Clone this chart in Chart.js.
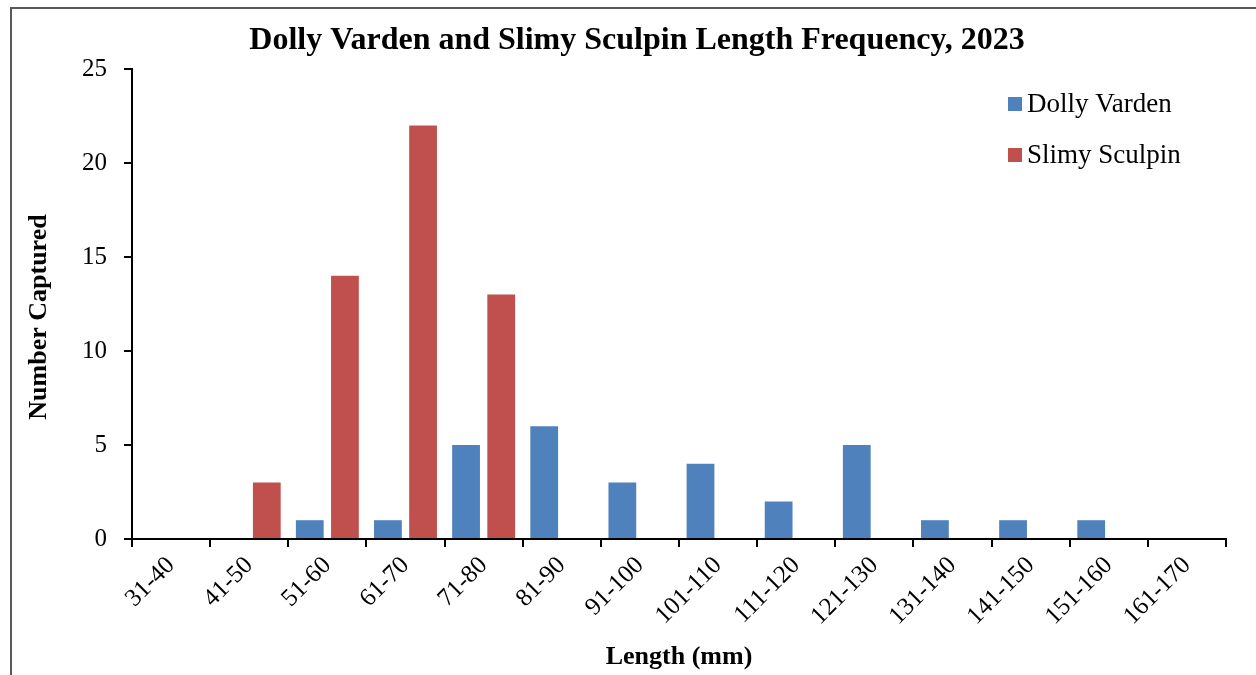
<!DOCTYPE html>
<html>
<head>
    <title>Length Frequency</title>
    <script src="https://cdn.jsdelivr.net/npm/chart.js"></script>
    <style>
        html, body { margin: 0; padding: 0; background: #fff; overflow: hidden; }
        #wrap { position: relative; width: 1256px; height: 675px; }
        #frame {
            position: absolute; left: 10px; top: 7px; right: -10px; bottom: -10px;
            border-left: 2px solid #595959; border-top: 2px solid #595959;
            pointer-events: none;
        }
    </style>
</head>
<body>
<div id="wrap">
    <canvas id="lf-chart" width="1256" height="675"></canvas>
    <div id="frame"></div>
</div>

<script>
    // length classes (mm) and fish counts
    const lengthBins = ['31-40', '41-50', '51-60', '61-70', '71-80', '81-90', '91-100',
        '101-110', '111-120', '121-130', '131-140', '141-150', '151-160', '161-170'];
    const dollyVarden = [0, 0, 1, 1, 5, 6, 3, 4, 2, 5, 1, 1, 1, 0];
    const slimySculpin = [0, 3, 14, 22, 13, 0, 0, 0, 0, 0, 0, 0, 0, 0];
    const yTicks = [0, 5, 10, 15, 20, 25];

    const serif = "'Times New Roman', 'Liberation Serif', serif";

    // legend drawn inside the plot, upper right
    const insideLegend = {
        id: 'insideLegend',
        afterDraw(chart) {
            const ctx = chart.ctx;
            const area = chart.chartArea;
            const x0 = area.right - 218;
            let y = area.top + 35;
            ctx.save();
            ctx.font = '27px ' + serif;
            ctx.textBaseline = 'middle';
            ctx.textAlign = 'left';
            chart.data.datasets.forEach(ds => {
                ctx.fillStyle = ds.backgroundColor;
                ctx.fillRect(x0, y - 7, 14, 14);
                ctx.fillStyle = '#000';
                ctx.fillText(ds.label, x0 + 19, y + 1);
                y += 51;
            });
            ctx.restore();
        }
    };

    const ctx = document.getElementById('lf-chart').getContext('2d');
    new Chart(ctx, {
        type: 'bar',
        data: {
            labels: lengthBins,
            datasets: [
                { label: 'Dolly Varden', data: dollyVarden, backgroundColor: '#4F81BD' },
                { label: 'Slimy Sculpin', data: slimySculpin, backgroundColor: '#C0504D' }
            ]
        },
        options: {
            responsive: false,
            animation: false,
            categoryPercentage: 0.9,
            barPercentage: 0.79,
            layout: { padding: { left: 30, right: 12, top: 0, bottom: 0 } },
            plugins: {
                legend: { display: false },
                tooltip: { enabled: false },
                title: {
                    display: true,
                    text: 'Dolly Varden and Slimy Sculpin Length Frequency, 2023',
                    color: '#000',
                    font: { family: serif, size: 32, weight: 'bold' },
                    padding: { top: 22, bottom: 8.6 }
                }
            },
            scales: {
                x: {
                    grid: { display: true, drawOnChartArea: false, drawTicks: true, tickLength: 8, color: '#000', lineWidth: 2 },
                    border: { display: true, color: '#000', width: 2 },
                    ticks: {
                        color: '#000',
                        font: { family: serif, size: 25 },
                        autoSkip: false,
                        maxRotation: 45,
                        minRotation: 45,
                        padding: 4
                    },
                    title: {
                        display: true,
                        text: 'Length (mm)',
                        color: '#000',
                        font: { family: serif, size: 26, weight: 'bold' },
                        padding: { top: 4, bottom: 2 }
                    },
                    afterFit(scale) { scale.width = scale.width; scale.height = 136; }
                },
                y: {
                    min: 0,
                    max: 25,
                    afterBuildTicks(scale) { scale.ticks = yTicks.map(v => ({ value: v })); },
                    grid: { display: true, drawOnChartArea: false, drawTicks: true, tickLength: 8, color: '#000', lineWidth: 2 },
                    border: { display: true, color: '#000', width: 2 },
                    ticks: {
                        color: '#000',
                        font: { family: serif, size: 25 },
                        padding: 17
                    },
                    title: {
                        display: true,
                        // trailing spaces nudge the centred title down a little, as in the original
                        text: 'Number Captured    ',
                        color: '#000',
                        font: { family: serif, size: 26, weight: 'bold' },
                        padding: { top: -6, bottom: 0 }
                    },
                    afterFit(scale) { scale.width = 102; }
                },
                // empty spacer on the right so the plot ends where the original does
                spacer: {
                    type: 'linear',
                    position: 'right',
                    display: true,
                    grid: { display: false },
                    border: { display: false },
                    ticks: { display: false },
                    afterFit(scale) { scale.width = 18; }
                }
            }
        },
        plugins: [insideLegend]
    });
</script>
</body>
</html>
